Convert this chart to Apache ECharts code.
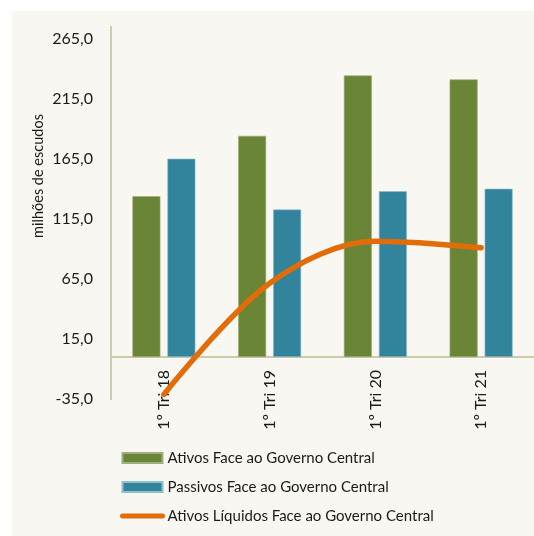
<!DOCTYPE html>
<html>
<head>
<meta charset="utf-8">
<script src="https://cdn.jsdelivr.net/npm/echarts@6/dist/echarts.min.js"></script>
<style>
html,body{margin:0;padding:0;background:#ffffff;width:534px;height:536px;overflow:hidden;}
#bg{position:absolute;left:12px;top:11px;right:0;bottom:0;background:#F8F7F2;}
#chart{position:absolute;left:0;top:0;width:534px;height:536px;}
</style>
</head>
<body>
<div id="bg"></div>
<div id="chart"></div>
<script>
var categories = ['1º Tri 18', '1º Tri 19', '1º Tri 20', '1º Tri 21'];
var ativos = [134.0, 184.3, 234.6, 231.3];
var passivos = [165.2, 122.9, 138.1, 140.2];
var liquidos = [-31.2, 61.4, 96.5, 91.1];
var seriesNames = ['Ativos Face ao Governo Central', 'Passivos Face ao Governo Central', 'Ativos Líquidos Face ao Governo Central'];
var yAxisName = 'milhões de escudos';

var FONT = 'Lato';
var chart = echarts.init(document.getElementById('chart'), null, {renderer: 'canvas'});
chart.setOption({
  backgroundColor: 'transparent',
  animation: false,
  grid: {left: 111, top: 27, width: 428, height: 372, containLabel: false},
  legend: {
    orient: 'vertical', left: 115, top: 444,
    itemWidth: 40, itemHeight: 10, itemGap: 11,
    textStyle: {fontFamily: FONT, fontSize: 15, color: '#1a1a1a', lineHeight: 18},
    data: [
      {name: seriesNames[0], icon: 'rect'},
      {name: seriesNames[1], icon: 'rect'},
      {name: seriesNames[2], itemStyle: {opacity: 0}, lineStyle: {width: 5, cap: 'round', color: '#E36C0A'}}
    ]
  },
  graphic: [{
    type: 'text', x: 38, y: 176, rotation: Math.PI / 2,
    style: {text: yAxisName, fontFamily: FONT, fontSize: 14.5, fill: '#1a1a1a', align: 'center', verticalAlign: 'middle'}
  }],
  xAxis: {
    type: 'category', data: categories,
    axisLine: {onZero: true, lineStyle: {color: '#CFCAA8', width: 2}},
    axisTick: {show: false},
    axisLabel: {rotate: 90, margin: -29, fontFamily: FONT, fontSize: 16, color: '#1a1a1a'},
    splitLine: {show: false}
  },
  yAxis: {
    type: 'value', min: -35, max: 275, interval: 50,
    axisLine: {show: true, lineStyle: {color: '#CFCAA8', width: 2}},
    axisTick: {show: false},
    splitLine: {show: false},
    axisLabel: {
      showMaxLabel: false, margin: 18, fontFamily: FONT, fontSize: 16, color: '#1a1a1a',
      formatter: function (v) { return v.toFixed(1).replace('.', ','); }
    }
  },
  series: [
    {name: seriesNames[0], type: 'bar', data: ativos, barWidth: 28, barGap: '25%',
     itemStyle: {color: '#6A8535', borderColor: '#9DAF7E', borderWidth: 0.6}},
    {name: seriesNames[1], type: 'bar', data: passivos, barWidth: 28,
     itemStyle: {color: '#31849B', borderColor: '#8EC0CC', borderWidth: 0.6}},
    {name: seriesNames[2], type: 'line', data: liquidos, smooth: 0.33, symbol: 'none', z: 5,
     lineStyle: {color: '#E36C0A', width: 5.5, cap: 'round'}, itemStyle: {color: '#E36C0A'}}
  ]
});
</script>
</body>
</html>
